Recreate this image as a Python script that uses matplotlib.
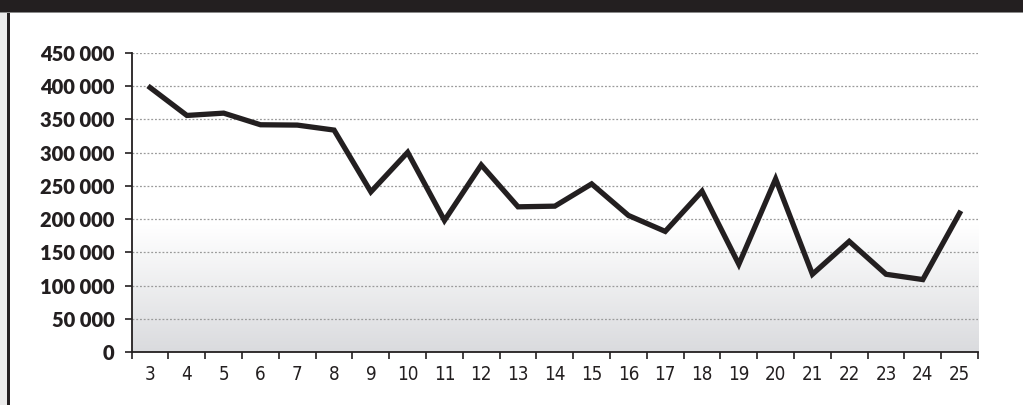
import matplotlib
matplotlib.use("Agg")
import matplotlib.pyplot as plt
import numpy as np
from matplotlib.patches import Rectangle
from matplotlib.font_manager import FontProperties

categories = ["3", "4", "5", "6", "7", "8", "9", "10", "11", "12", "13", "14",
              "15", "16", "17", "18", "19", "20", "21", "22", "23", "24", "25"]
values = [398000, 356000, 359500, 342000, 341500, 334000, 241000, 300500,
          198000, 281500, 218500, 219500, 253000, 205500, 181500, 242000,
          132000, 260500, 117000, 166500, 117000, 109000, 209000]
y_ticks = [0, 50000, 100000, 150000, 200000, 250000, 300000, 350000, 400000, 450000]

W, H = 1023, 405
fig = plt.figure(figsize=(W / 100, H / 100), dpi=100)
fig.patch.set_facecolor("white")

# frame decorations
fig.patches.append(Rectangle((0, 0), 7 / W, 1, transform=fig.transFigure,
                             facecolor="#ebebeb", edgecolor="none", zorder=0))
fig.patches.append(Rectangle((7 / W, 0), 2.5 / W, 1, transform=fig.transFigure,
                             facecolor="#231f20", edgecolor="none", zorder=1))
fig.patches.append(Rectangle((0, 1 - 12 / H), 1, 12 / H, transform=fig.transFigure,
                             facecolor="#231f20", edgecolor="none", zorder=2))
fig.patches.append(Rectangle((0, 1 - 13 / H), 1, 1.2 / H, transform=fig.transFigure,
                             facecolor="#8a8a8a", edgecolor="none", zorder=2))

left, right, top, bottom = 131.7, 978, 53, 352
ax = fig.add_axes([left / W, (H - bottom) / H, (right - left) / W, (bottom - top) / H])

n = len(categories)
x = np.arange(n)
ax.set_xlim(-0.5, n - 0.5)
ax.set_ylim(0, 450000)

# gradient background
ys = np.linspace(0, 450000, 400)
top_c = np.array([1.0, 1.0, 1.0])
bot_c = np.array([218, 219, 222]) / 255.0
start = 190000.0
t = np.clip((start - ys) / start, 0, 1)
grad = top_c[None, :] * (1 - t[:, None]) + bot_c[None, :] * t[:, None]
ax.imshow(grad[:, None, :], extent=[-0.5, n - 0.5, 0, 450000], aspect="auto",
          origin="lower", zorder=0, interpolation="bilinear")

for yv in y_ticks[1:]:
    ax.axhline(yv, color="#9a9a9a", lw=0.9, ls=(0, (1.5, 1.5)), zorder=1)

ax.plot(x, values, color="#231f20", lw=3.8, solid_joinstyle="miter", zorder=3)

for s in ["top", "right"]:
    ax.spines[s].set_visible(False)
for s in ["left", "bottom"]:
    ax.spines[s].set_color("#231f20")
    ax.spines[s].set_linewidth(1.3)

yfp = FontProperties(family=["Lato", "DejaVu Sans"], weight=800, size=14.5)
xfp = FontProperties(family=["DejaVu Sans", "Roboto"], stretch="condensed",
                     weight="normal", size=13.5)

ylabels = [f"{v:,}".replace(",", " ") for v in y_ticks]
ax.set_yticks(y_ticks)
ax.set_yticklabels(ylabels, fontproperties=yfp, color="#231f20")
ax.tick_params(axis="y", direction="out", length=5, width=1.2, color="#231f20", pad=7)

ax.set_xticks(np.arange(-0.5, n, 1.0))
ax.set_xticklabels([""] * (n + 1))
ax.set_xticks(x, minor=True)
ax.set_xticklabels(categories, minor=True, fontproperties=xfp, color="#231f20")
ax.tick_params(axis="x", which="major", direction="out", length=5, width=1.2, color="#231f20")
ax.tick_params(axis="x", which="minor", length=0, pad=9)

# align right edge of y labels to ~114 px
renderer = fig.canvas.get_renderer()
fig.canvas.draw()
bb = ax.get_yticklabels()[-1].get_window_extent(renderer)
shift_px = bb.x1 - 114.5
cur_pad = ax.yaxis.get_major_ticks()[0].get_pad()
ax.tick_params(axis="y", pad=max(cur_pad + shift_px * 72 / 100, 1))

fig.savefig("out.png", dpi=100)
